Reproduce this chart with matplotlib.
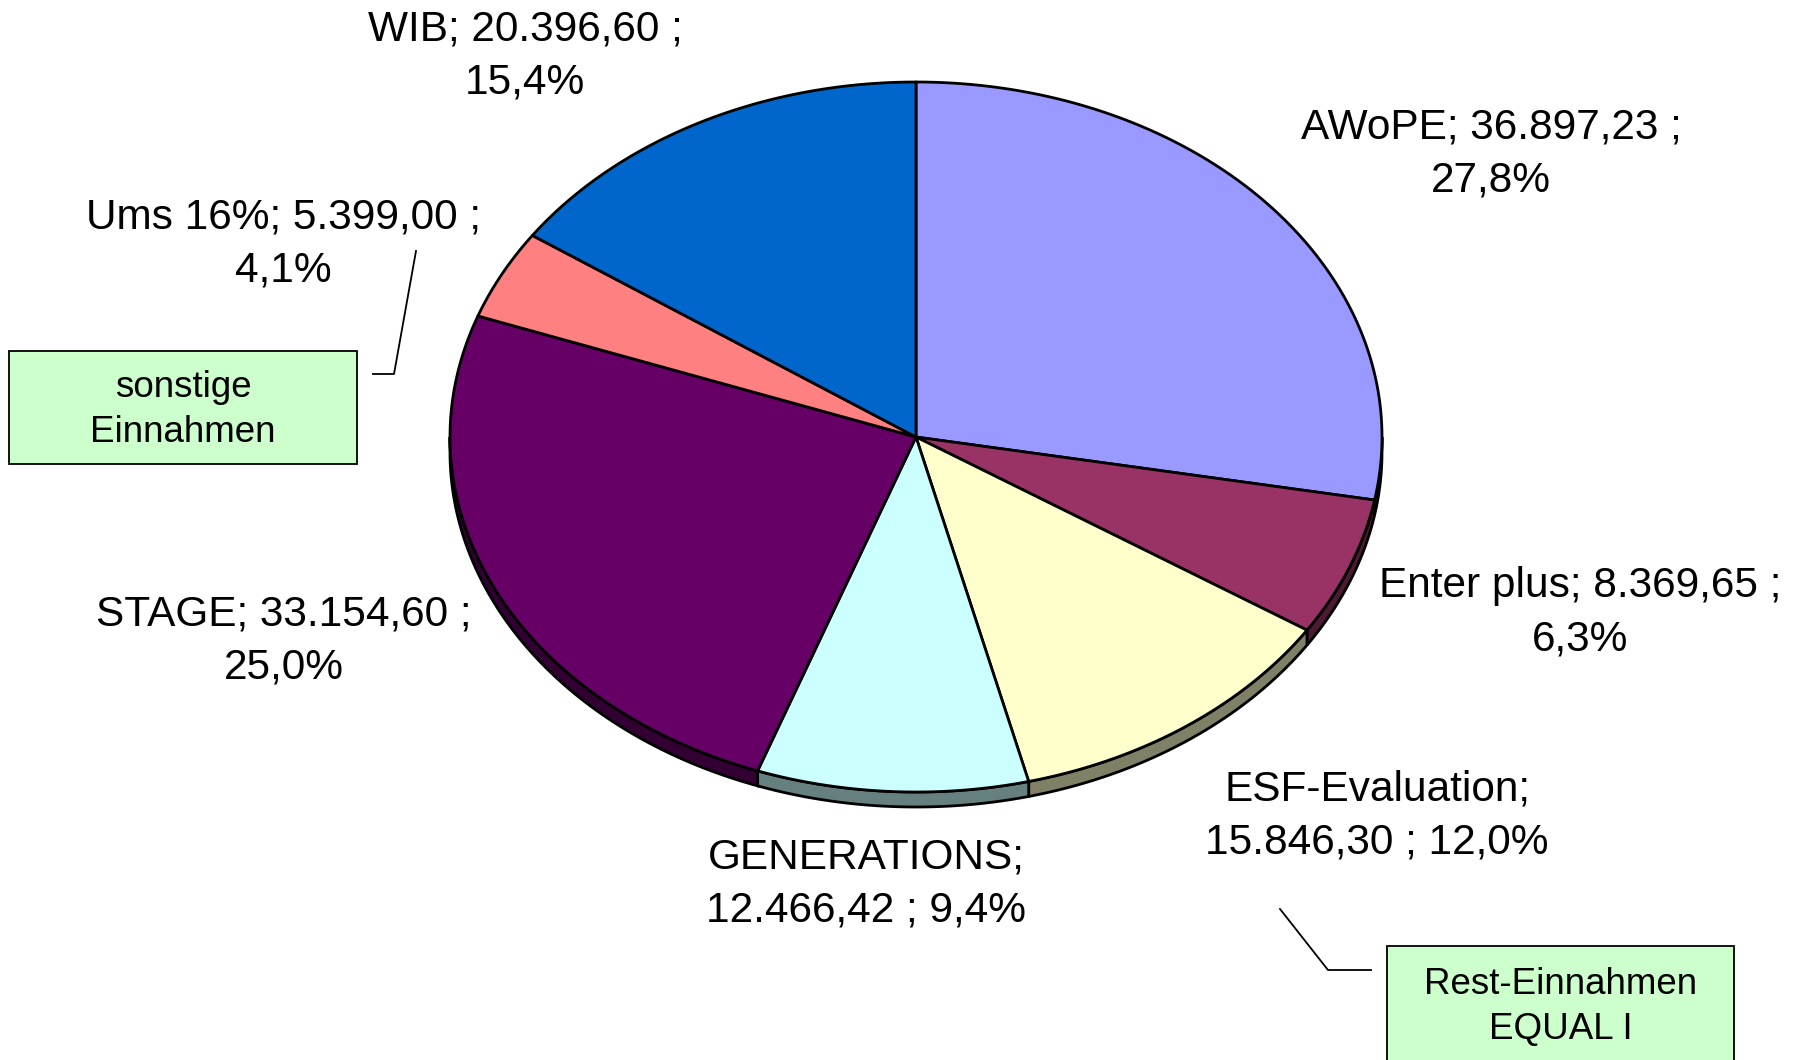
import numpy as np
import matplotlib.pyplot as plt
from matplotlib.patches import Polygon, Rectangle

plt.rcParams['font.family'] = ['Liberation Sans', 'DejaVu Sans']

# Daten
namen = ["AWoPE", "Enter plus", "ESF-Evaluation", "GENERATIONS", "STAGE", "Ums 16%", "WIB"]
werte = [36897.23, 8369.65, 15846.30, 12466.42, 33154.60, 5399.00, 20396.60]
farben = ["#9999FF", "#993366", "#FFFFCC", "#CCFFFF", "#660066", "#FF8080", "#0066CC"]
# Zeilenumbruch nach dem Namen (True) oder nach dem Wert (False)
umbruch_nach_name = [False, False, True, True, False, False, False]
# Label-Positionen (Pixel)
label_pos = [(1491, 154), (1580, 613), (1377, 816), (866, 884), (284, 641), (283, 244), (525, 56)]

# Geometrie der Torte (Pixel)
cx, cy = 916, 437
a, b = 466, 355
tiefe = 15


def de_zahl(v):
    s = f"{v:,.2f}"
    return s.replace(",", "X").replace(".", ",").replace("X", ".")


def punkte(t1, t2, dy=0, n=200):
    t = np.radians(np.linspace(t1, t2, n))
    return np.column_stack([cx + a * np.cos(t), cy - b * np.sin(t) + dy])


def dunkler(farbe, f=0.5):
    r, g, bl = [int(farbe[i:i + 2], 16) / 255 for i in (1, 3, 5)]
    return (r * f, g * f, bl * f)


fig = plt.figure(figsize=(17.98, 10.60), dpi=100)
ax = fig.add_axes([0, 0, 1, 1])
ax.set_xlim(0, 1798)
ax.set_ylim(1060, 0)
ax.axis("off")

gesamt = sum(werte)
winkel = [v / gesamt * 360 for v in werte]
grenzen = 90 - np.concatenate([[0], np.cumsum(winkel)])

# Seitenflaechen (nur untere Haelfte sichtbar)
for i in range(len(werte)):
    t_hi, t_lo = grenzen[i], grenzen[i + 1]
    hi = min(t_hi, 0)
    lo = max(t_lo, -180)
    if hi <= lo:
        continue
    oben = punkte(hi, lo)
    unten = punkte(lo, hi, dy=tiefe)
    ax.add_patch(Polygon(np.vstack([oben, unten]), closed=True,
                         facecolor=dunkler(farben[i]), edgecolor="black", lw=2.0, zorder=1))

# Deckflaechen
for i in range(len(werte)):
    bogen = punkte(grenzen[i], grenzen[i + 1])
    poly = np.vstack([[cx, cy], bogen])
    ax.add_patch(Polygon(poly, closed=True, facecolor=farben[i],
                         edgecolor="black", lw=2.0, joinstyle="round", zorder=2))

# Beschriftungen
for i in range(len(werte)):
    p = f"{werte[i] / gesamt * 100:.1f}".replace(".", ",") + "%"
    if umbruch_nach_name[i]:
        txt = f"{namen[i]};\n{de_zahl(werte[i])} ; {p}"
    else:
        txt = f"{namen[i]}; {de_zahl(werte[i])} ;\n{p}"
    x, y = label_pos[i]
    ax.text(x, y, txt, ha="center", va="center", fontsize=30.5,
            linespacing=1.42, color="black", zorder=5)

# Kaesten
ax.add_patch(Rectangle((9, 351), 348, 113, facecolor="#CCFFCC",
                       edgecolor="black", lw=1.3, zorder=4))
ax.text(183, 410, "sonstige\nEinnahmen", ha="center", va="center",
        fontsize=26.5, linespacing=1.38, zorder=5)
ax.plot([416, 394, 373], [251, 374, 374], color="black", lw=1.3, zorder=4)

ax.add_patch(Rectangle((1387, 946), 347, 140, facecolor="#CCFFCC",
                       edgecolor="black", lw=1.3, zorder=4))
ax.text(1561, 1007, "Rest-Einnahmen\nEQUAL I", ha="center", va="center",
        fontsize=26.5, linespacing=1.38, zorder=5)
ax.plot([1280, 1328, 1371], [909, 970, 970], color="black", lw=1.3, zorder=4)

fig.savefig("out.png", dpi=100)
